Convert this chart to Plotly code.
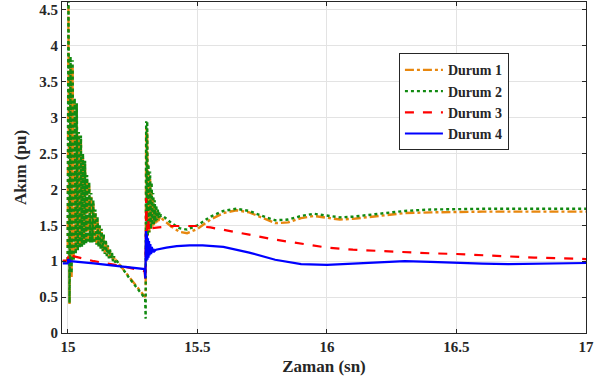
import plotly.graph_objects as go

# Time axis (s) shared by Durum 1 and Durum 2
t12 = [14.98, 14.999,
       15.002, 15.006, 15.010, 15.014, 15.018, 15.022, 15.026, 15.030, 15.034, 15.038,
       15.042, 15.046, 15.050, 15.054, 15.058, 15.062, 15.066, 15.070, 15.074, 15.078,
       15.082, 15.086, 15.090, 15.094, 15.098, 15.102, 15.106, 15.110, 15.114, 15.118,
       15.122, 15.126, 15.130, 15.134, 15.138, 15.142, 15.146, 15.150, 15.154, 15.158,
       15.162, 15.166, 15.170, 15.174, 15.178, 15.182, 15.186,
       15.24, 15.298,
       15.300, 15.302, 15.304, 15.306, 15.308, 15.311, 15.314, 15.317, 15.320, 15.323,
       15.326, 15.329, 15.332, 15.335, 15.338, 15.341, 15.344, 15.347, 15.350, 15.353,
       15.356, 15.36,
       15.37, 15.40, 15.43, 15.46, 15.50, 15.55, 15.60, 15.65, 15.70, 15.75,
       15.80, 15.85, 15.90, 15.95, 16.00, 16.05, 16.10, 16.15, 16.20, 16.30,
       16.40, 16.50, 16.60, 16.80, 17.00]

durum1 = [1.0, 1.0,
          4.55, 0.4, 3.75, 0.78, 3.7, 1.02, 3.2, 1.12, 3.15, 1.18,
          2.75, 1.21, 2.7, 1.23, 2.45, 1.25, 2.35, 1.27, 2.15, 1.28,
          2.05, 1.28, 1.9, 1.28, 1.8, 1.27, 1.68, 1.25, 1.58, 1.22,
          1.49, 1.19, 1.42, 1.16, 1.35, 1.12, 1.28, 1.09, 1.2, 1.06,
          1.15, 1.03, 1.1, 1.01, 1.05, 0.99, 1.01,
          0.76, 0.5,
          0.55, 2.85, 1.3, 2.8, 1.35, 2.25, 1.4, 2.15, 1.45, 2.0,
          1.48, 1.88, 1.5, 1.78, 1.52, 1.7, 1.54, 1.65, 1.56, 1.62,
          1.58, 1.6,
          1.57, 1.48, 1.41, 1.39, 1.45, 1.58, 1.67, 1.71, 1.68, 1.6,
          1.53, 1.54, 1.6, 1.63, 1.61, 1.58, 1.59, 1.61, 1.64, 1.67,
          1.68, 1.69, 1.69, 1.69, 1.69]

durum2 = [1.0, 1.0,
          4.75, 0.42, 3.85, 0.83, 3.8, 1.0, 3.27, 1.1, 3.2, 1.15,
          2.8, 1.18, 2.75, 1.2, 2.5, 1.22, 2.4, 1.24, 2.2, 1.25,
          2.1, 1.26, 1.95, 1.26, 1.85, 1.25, 1.72, 1.23, 1.62, 1.2,
          1.52, 1.17, 1.45, 1.14, 1.38, 1.1, 1.3, 1.07, 1.22, 1.04,
          1.17, 1.02, 1.12, 1.0, 1.07, 0.98, 1.02,
          0.75, 0.48,
          0.2, 2.95, 1.3, 2.95, 1.35, 2.35, 1.4, 2.25, 1.45, 2.1,
          1.5, 1.95, 1.52, 1.85, 1.55, 1.78, 1.57, 1.72, 1.6, 1.68,
          1.62, 1.64,
          1.62, 1.53, 1.46, 1.44, 1.5, 1.62, 1.7, 1.73, 1.7, 1.63,
          1.57, 1.58, 1.63, 1.66, 1.64, 1.61, 1.62, 1.64, 1.67, 1.7,
          1.72, 1.73, 1.73, 1.73, 1.73]

t3 = [14.98, 14.999, 15.002, 15.006, 15.012, 15.02, 15.1, 15.2, 15.296, 15.299,
      15.302, 15.305, 15.309, 15.313, 15.318, 15.325, 15.35, 15.40, 15.45, 15.50,
      15.55, 15.60, 15.70, 15.80, 15.90, 16.00, 16.10, 16.20, 16.30, 16.40,
      16.50, 16.60, 16.70, 16.80, 16.90, 17.00]
durum3 = [1.01, 1.01, 1.09, 1.05, 1.08, 1.07, 1.0, 0.94, 0.86, 0.72,
          1.88, 1.42, 1.6, 1.45, 1.52, 1.46, 1.47, 1.49, 1.49, 1.49,
          1.47, 1.44, 1.37, 1.3, 1.24, 1.19, 1.16, 1.14, 1.12, 1.11,
          1.1, 1.08, 1.07, 1.05, 1.04, 1.03]

t4 = [14.98, 14.999, 15.001, 15.004, 15.007, 15.01, 15.1, 15.2, 15.296, 15.299,
      15.301, 15.303, 15.305, 15.307, 15.309, 15.311, 15.313, 15.315, 15.318, 15.321,
      15.324, 15.327, 15.33, 15.334, 15.34, 15.38, 15.42, 15.47, 15.52, 15.60,
      15.70, 15.80, 15.90, 16.00, 16.10, 16.20, 16.30, 16.40, 16.50, 16.60,
      16.70, 16.80, 16.90, 17.00]
durum4 = [0.97, 0.97, 1.03, 0.98, 1.02, 1.0, 0.97, 0.93, 0.89, 0.76,
          1.42, 1.0, 1.38, 1.02, 1.32, 1.05, 1.28, 1.08, 1.24, 1.1,
          1.2, 1.12, 1.17, 1.14, 1.16, 1.19, 1.21, 1.22, 1.22, 1.2,
          1.12, 1.02, 0.96, 0.95, 0.97, 0.99, 1.0, 0.99, 0.975, 0.965,
          0.96, 0.965, 0.97, 0.975]

assert len(t12) == len(durum1) == len(durum2)
assert len(t3) == len(durum3) and len(t4) == len(durum4)

x_ticks = [15, 15.5, 16, 16.5, 17]
x_ticklabels = ["15", "15.5", "16", "16.5", "17"]
y_ticks = [0, 0.5, 1, 1.5, 2, 2.5, 3, 3.5, 4, 4.5]
y_ticklabels = ["0", "0.5", "1", "1.5", "2", "2.5", "3", "3.5", "4", "4.5"]

FONT = "Liberation Serif"
fig = go.Figure()
fig.add_trace(go.Scatter(x=t12, y=durum1, mode="lines", name="Durum 1",
                         line=dict(color="#e8870e", width=2.4, dash="dashdot")))
fig.add_trace(go.Scatter(x=t12, y=durum2, mode="lines", name="Durum 2",
                         line=dict(color="#118a11", width=2.4, dash="dot")))
fig.add_trace(go.Scatter(x=t3, y=durum3, mode="lines", name="Durum 3",
                         line=dict(color="#ff0000", width=2.2, dash="dash")))
fig.add_trace(go.Scatter(x=t4, y=durum4, mode="lines", name="Durum 4",
                         line=dict(color="#0000ff", width=2.2)))

axis_common = dict(showgrid=True, gridcolor="#e3e3e3", gridwidth=1, zeroline=False,
                   showline=True, linecolor="#262626", linewidth=1.2, mirror="allticks",
                   ticks="inside", ticklen=4, tickcolor="#262626",
                   tickfont=dict(family=FONT, size=15, color="#262626", weight="bold"))

fig.update_layout(
    width=601, height=387,
    margin=dict(l=62, r=15, t=2, b=54),
    paper_bgcolor="white", plot_bgcolor="white",
    font=dict(family=FONT),
    showlegend=True,
    legend=dict(x=0.643, y=0.845, xanchor="left", yanchor="top",
                bgcolor="white", bordercolor="#262626", borderwidth=1,
                font=dict(family=FONT, size=14, color="#262626", weight="bold"),
                tracegroupgap=0, itemwidth=38),
    xaxis=dict(range=[14.977, 17], tickvals=x_ticks, ticktext=x_ticklabels,
               title=dict(text="Zaman (sn)", standoff=6,
                          font=dict(family=FONT, size=17, color="#262626", weight="bold")),
               **axis_common),
    yaxis=dict(range=[0, 4.61], tickvals=y_ticks, ticktext=y_ticklabels,
               title=dict(text="Akım (pu)", standoff=8,
                          font=dict(family=FONT, size=17, color="#262626", weight="bold")),
               **axis_common),
)

fig.write_html("out.html", config={"displayModeBar": False},
               post_script="document.body.style.margin='0px';")
